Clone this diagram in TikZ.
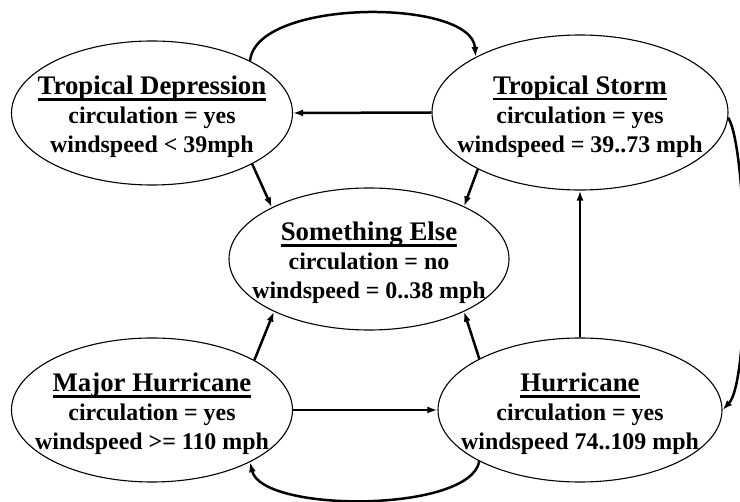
\documentclass[tikz,border=0pt]{standalone}
\usepackage{fontspec}
\setmainfont{Liberation Serif}
\usetikzlibrary{shapes.geometric,arrows.meta}
\newcommand\myul[1]{\setbox0=\hbox{#1}\rlap{\vrule width\wd0 height -3.5pt depth 5.8pt}\box0}
\begin{document}
\begin{tikzpicture}[x=1pt,y=-1pt,
  state/.style={draw,ellipse,line width=1.1pt,inner sep=0pt},
  txt/.style={align=center,font=\bfseries\fontsize{23.9}{29}\selectfont,inner sep=0pt,yshift=-4pt},
  arr/.style={line width=2.5pt,-{Latex[length=10pt,width=7pt]}}]
\useasboundingbox (0,0) rectangle (740,502);
\fill[white] (0,0) rectangle (740,502);
% states
\node[state,minimum width=281pt,minimum height=144pt] (td) at (152,113) {};
\node[state,minimum width=296pt,minimum height=155pt] (ts) at (580,112.5) {};
\node[state,minimum width=280pt,minimum height=142pt] (se) at (369,259) {};
\node[state,minimum width=281pt,minimum height=144pt] (mh) at (152,410) {};
\node[state,minimum width=284pt,minimum height=144pt] (h) at (580,410) {};
% texts
\node[txt] (tdt) at (td.center) {{\fontsize{26.8}{29}\selectfont\myul{Tropical Depression}}\\circulation = yes\\windspeed < 39mph};
\node[txt] (tst) at (ts.center) {{\fontsize{26.8}{29}\selectfont\myul{Tropical Storm}}\\circulation = yes\\windspeed = 39..73 mph};
\node[txt] (set) at (se.center) {{\fontsize{26.8}{29}\selectfont\myul{Something Else}}\\circulation = no\\windspeed = 0..38 mph};
\node[txt] (mht) at (mh.center) {{\fontsize{26.8}{29}\selectfont\myul{Major Hurricane}}\\circulation = yes\\windspeed >= 110 mph};
\node[txt] (ht) at (h.center) {{\fontsize{26.8}{29}\selectfont\myul{Hurricane}}\\circulation = yes\\windspeed 74..109 mph};
% connectors
\draw[arr] (td.28) .. controls (256,-2) and (472,-2) .. (ts.152);
\draw[arr] (ts.west) -- (td.east);
\draw[arr] (td.-27) -- (se.152);
\draw[arr] (ts.209) -- (se.29);
\draw[arr] (mh.26) -- (se.209);
\draw[arr] (h.153) -- (se.-29);
\draw[arr] (mh.east) -- (h.west);
\draw[arr] (h.north) -- (ts.south);
\draw[arr] (ts.-2) .. controls (748,150) and (751,380) .. (h.east);
\draw[arr] (h.207) .. controls (470,513) and (262,513) .. (mh.332);
\end{tikzpicture}
\end{document}
